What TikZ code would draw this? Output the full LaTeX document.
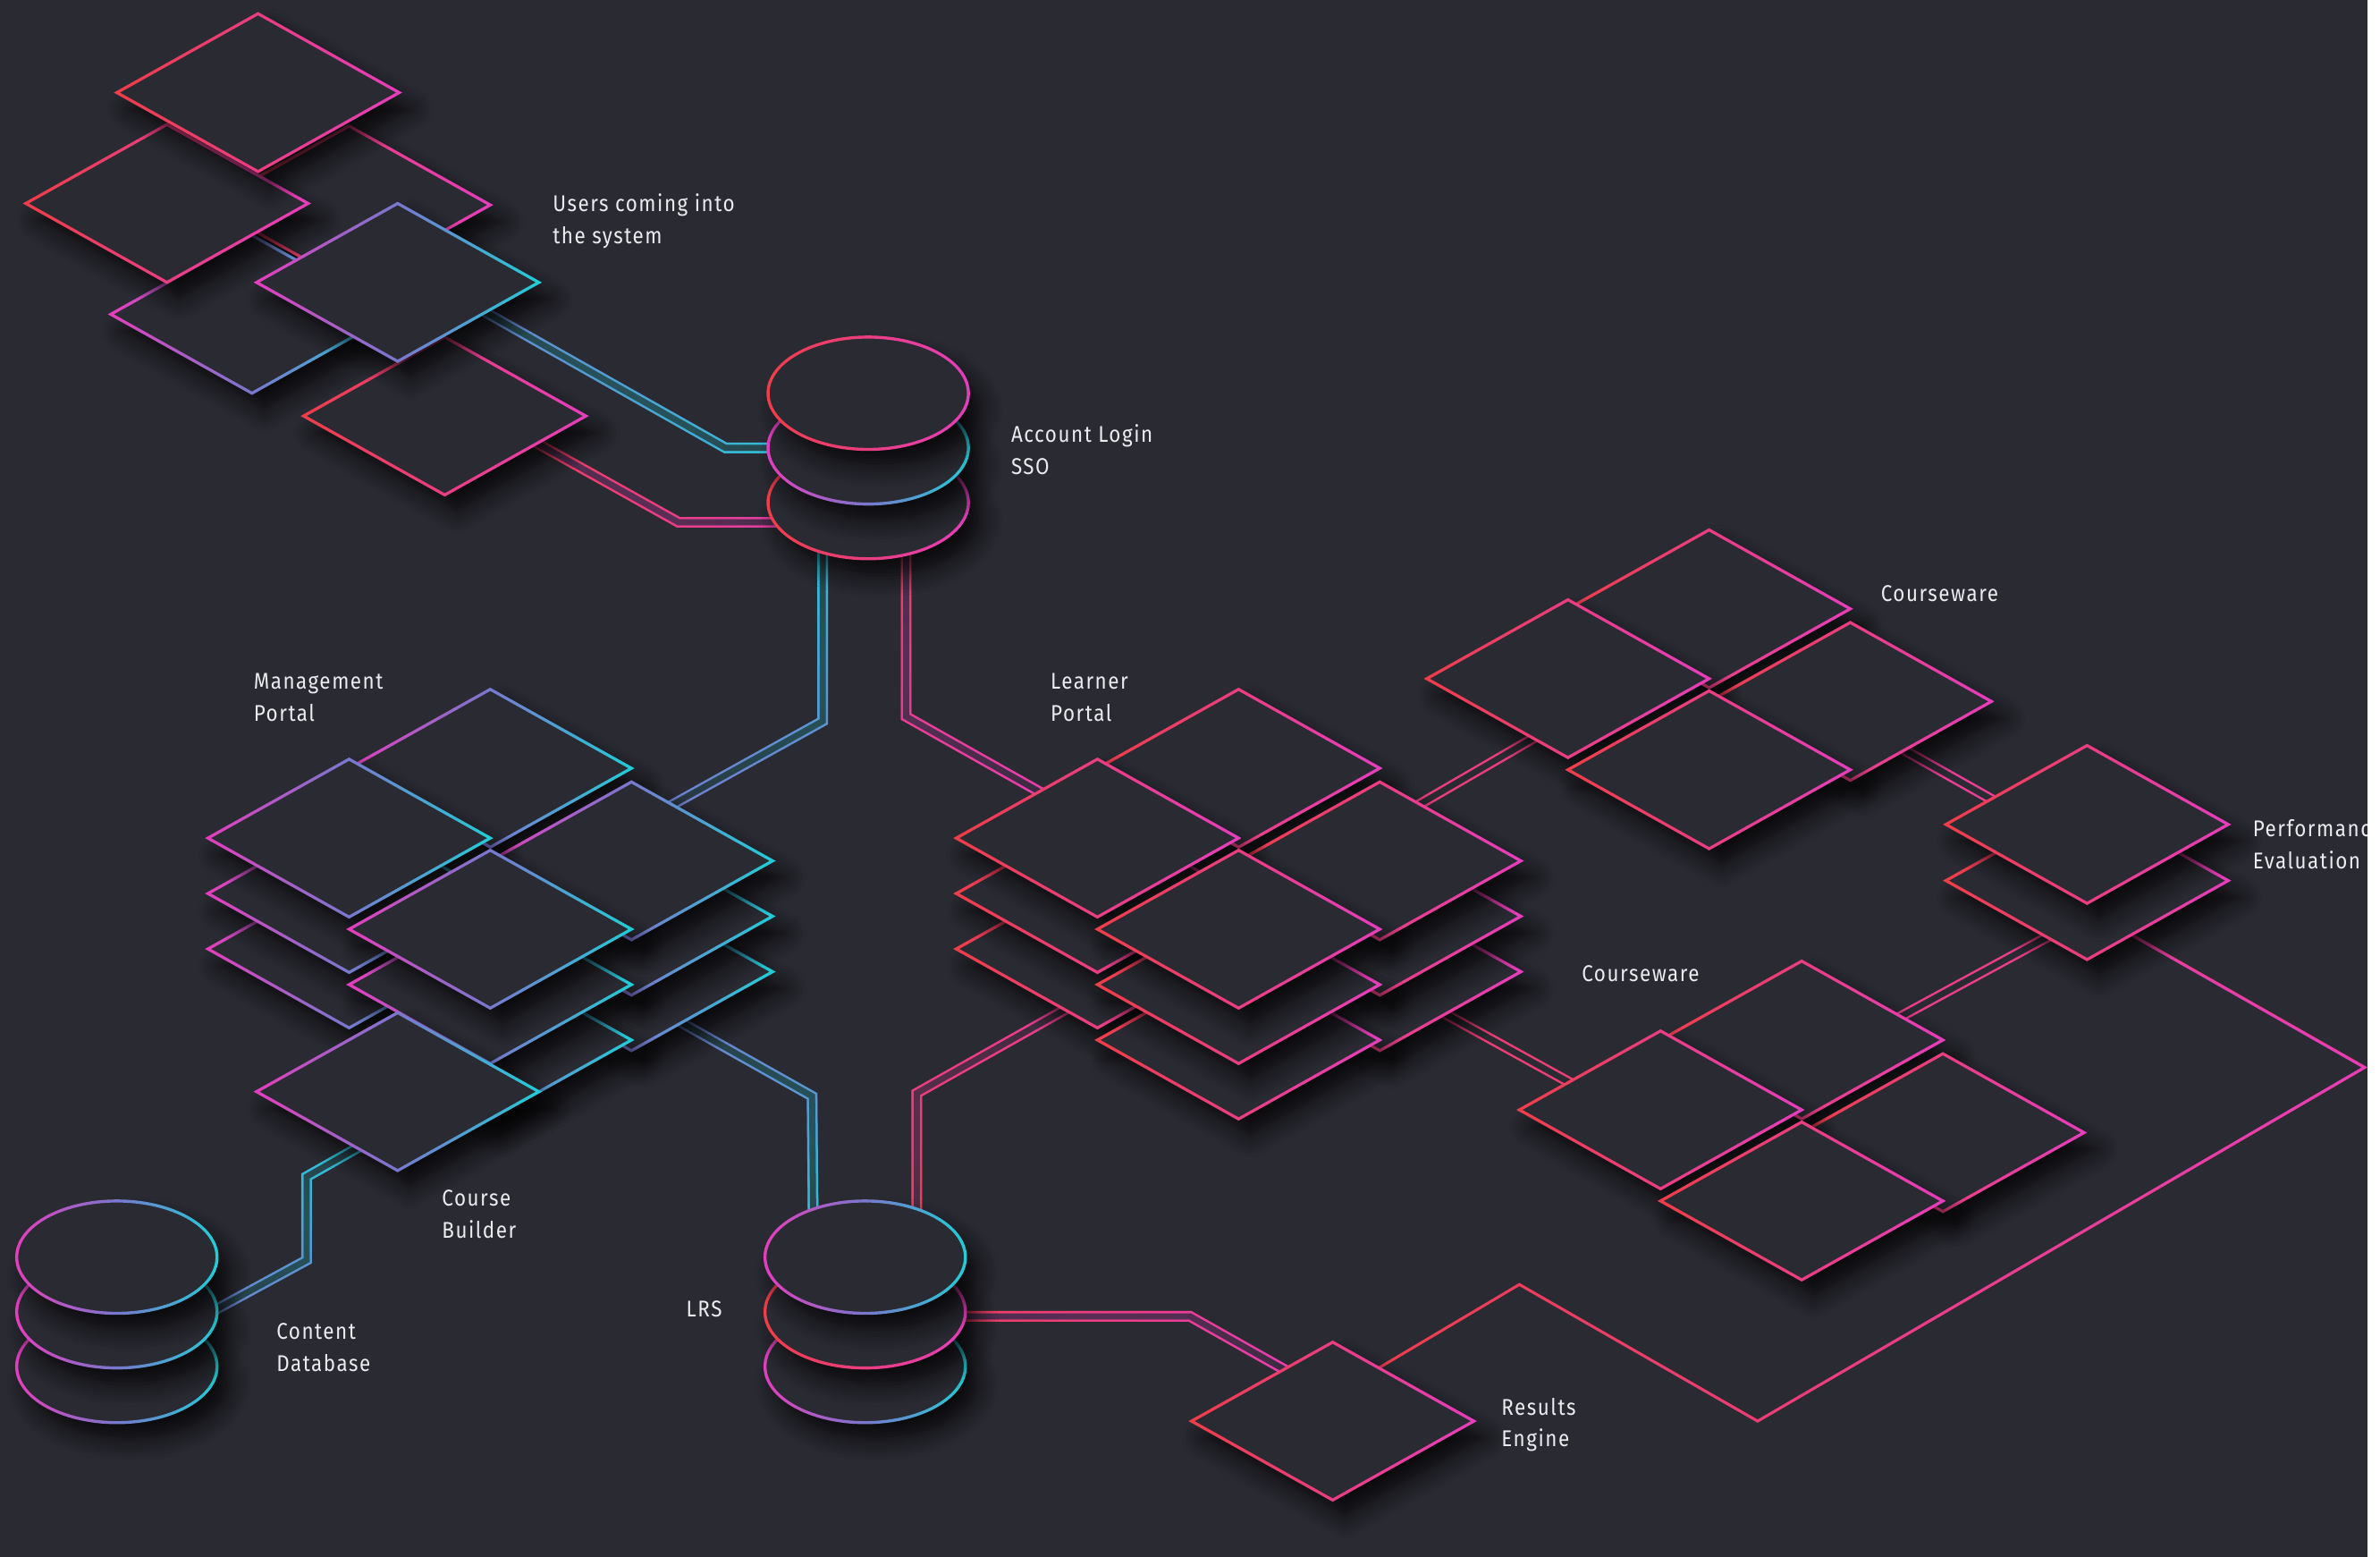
\documentclass[tikz,border=0pt]{standalone}
\usepackage{fontspec}
\setmainfont{Fira Sans}[FakeStretch=0.88,LetterSpace=6]
\usetikzlibrary{calc,fadings,shadows.blur}
\definecolor{bgc}{RGB}{42,42,51}
\definecolor{cR}{RGB}{238,62,72}
\definecolor{cM}{RGB}{228,62,188}
\definecolor{cC}{RGB}{32,206,214}
\definecolor{cP}{RGB}{120,120,205}
\definecolor{txtc}{RGB}{235,235,240}
\tikzfading[name=fr, left color=transparent!100, right color=transparent!0]
\tikzfading[name=fu, top color=transparent!0, bottom color=transparent!100]
\tikzfading[name=fd, top color=transparent!100, bottom color=transparent!0]
\tikzset{
  rsh/.style={left color=cR, right color=cM},
  csh/.style={left color=cM, right color=cC, middle color=cP},
  shd/.style={blur shadow={shadow xshift=8pt, shadow yshift=-11pt, shadow blur radius=14pt, shadow opacity=80, shadow blur steps=8}},
  dbl/.style={double=bgc, double distance=4pt, line width=1.5pt},
  sgl/.style={line width=1.8pt},
  lbl/.style={text=txtc, font=\fontsize{15}{21}\selectfont, align=left, anchor=north west, inner sep=0pt},
}
\newcommand\dmd[2]{%
  \begin{scope}[shift={(#1)}]
    \fill[bgc, shd] (-93,0) -- (0,-52) -- (93,0) -- (0,52) -- cycle;
    \shade[#2, even odd rule] (-95,0) -- (0,-53.1) -- (95,0) -- (0,53.1) -- cycle
      (-91,0) -- (0,-50.9) -- (91,0) -- (0,50.9) -- cycle;
  \end{scope}}
\newcommand\stk[2]{\dmd{$(#1)+(0,73)$}{#2}\dmd{$(#1)+(0,36.5)$}{#2}\dmd{#1}{#2}}
\newcommand\dsk[2]{%
  \begin{scope}[shift={(#1)}]
    \fill[bgc, shd] (0,0) ellipse [x radius=66pt, y radius=37pt];
    \shade[#2, even odd rule] (0,0) ellipse [x radius=67pt, y radius=38pt]
      (0,0) ellipse [x radius=65pt, y radius=36pt];
  \end{scope}}
\begin{document}
\begin{tikzpicture}[x=1pt,y=-1pt]
\useasboundingbox (0,0) rectangle (1568,1025);
\fill[bgc] (-5,-5) rectangle (1559.7,1032);
% ---------- coordinates
\coordinate (u1) at (170,61);
\coordinate (u2) at (230,135);
\coordinate (u3) at (110,134);
\coordinate (u4) at (262,186);
\coordinate (u5) at (166,207);
\coordinate (u6) at (293,274);
\coordinate (acc) at (572,295);
\coordinate (m1) at (323,506);
\coordinate (m2) at (230,552);
\coordinate (m3) at (416,567);
\coordinate (m4) at (323,612);
\coordinate (cb) at (262,719);
\coordinate (l1) at (816,506);
\coordinate (l2) at (723,552);
\coordinate (l3) at (909,567);
\coordinate (l4) at (816,612);
\coordinate (cwt) at (1126,401);
\coordinate (cwtl) at (1033,447);
\coordinate (cwtr) at (1219,462);
\coordinate (cwtf) at (1126,507);
\coordinate (cwbb) at (1187,685);
\coordinate (cwbl) at (1094,731);
\coordinate (cwbr) at (1280,746);
\coordinate (cwbf) at (1187,791);
\coordinate (pe) at (1375,543);
\coordinate (lrs) at (570,864);
\coordinate (cdb) at (77,864);
\coordinate (res) at (878,936);
% ---------- connectors
\draw[dbl, cP] ($(u4)+(0,-13)$) -- ++(216,122) -- (acc);
\draw[dbl, cC, path fading=fr] ($(u4)+(0,-13)$) -- ++(216,122) -- (acc);
\draw[dbl, cR] ($(u6)+(0,-16)$) -- ++(154,86) -- ($(acc)+(0,49)$);
\draw[dbl, cM, path fading=fr] ($(u6)+(0,-16)$) -- ++(154,86) -- ($(acc)+(0,49)$);
\draw[dbl, cP] ($(acc)+(-30,40)$) -- ++(0,140) -- ($(m3)+(0,-22)$);
\draw[dbl, cC, path fading=fu] ($(acc)+(-30,40)$) -- ++(0,140) -- ($(m3)+(0,-22)$);
\draw[dbl, cR] ($(acc)+(25,40)$) -- ++(0,137) -- ($(l2)+(0,-9)$);
\draw[dbl, cM, path fading=fd] ($(acc)+(25,40)$) -- ++(0,137) -- ($(l2)+(0,-9)$);
\draw[dbl, cR] ($(l2)+(0,101)$) -- ++(-119,67) -- ($(lrs)+(34,-30)$);
\draw[dbl, cM!70!cR, path fading=fu] ($(l2)+(0,101)$) -- ++(-119,67) -- ($(lrs)+(34,-30)$);
\draw[dbl, cP] ($(m3)+(0,88)$) -- ++(119,67) -- ($(lrs)+(-34,-30)$);
\draw[dbl, cC, path fading=fd] ($(m3)+(0,88)$) -- ++(119,67) -- ($(lrs)+(-34,-30)$);
\draw[dbl, cP] ($(cb)+(0,22)$) -- ++(-60,34) -- ++(0,55) -- ($(cdb)+(33,16)$);
\draw[dbl, cC, path fading=fu] ($(cb)+(0,22)$) -- ++(-60,34) -- ++(0,55) -- ($(cdb)+(33,16)$);
\draw[dbl, cR] ($(lrs)+(0,3)$) -- ++(214,0) -- ($(res)+(0,-16)$);
\draw[dbl, cM, path fading=fr] ($(lrs)+(0,3)$) -- ++(214,0) -- ($(res)+(0,-16)$);
\draw[dbl, cR!60!cM] ($(l3)+(0,77)$) -- ($(cwbl)+(0,15)$);
\draw[dbl, cR!55!cM] ($(l3)+(0,-22)$) -- ($(cwtl)+(0,26)$);
\draw[dbl, cM!65!cR] ($(cwtr)+(0,12)$) -- ($(pe)+(0,19)$);
\draw[dbl, cM!55!cR] ($(cwbb)+(33,2)$) -- ($(pe)+(0,60)$);
\draw[sgl, cR] ($(res)+(0,-17)$) -- ++(123,-73) -- ++(157,90) -- ++(400,-233) -- ($(pe)+(0,56)$);
\draw[sgl, cM, path fading=fr] ($(res)+(0,-17)$) -- ++(123,-73) -- ++(157,90) -- ++(400,-233) -- ($(pe)+(0,56)$);
% ---------- users group
\dmd{u2}{rsh}
\dmd{u5}{csh}
\dmd{u3}{rsh}
\dmd{u1}{rsh}
\dmd{u6}{rsh}
\dmd{u4}{csh}
% ---------- account login
\dsk{$(acc)+(0,36)$}{rsh}
\dsk{acc}{csh}
\dsk{$(acc)+(0,-36)$}{rsh}
% ---------- management portal
\dmd{m1}{csh}
\stk{m3}{csh}
\stk{m2}{csh}
\stk{m4}{csh}
\dmd{cb}{csh}
% ---------- learner portal
\dmd{l1}{rsh}
\stk{l3}{rsh}
\stk{l2}{rsh}
\stk{l4}{rsh}
% ---------- courseware top
\dmd{cwt}{rsh}
\dmd{cwtr}{rsh}
\dmd{cwtl}{rsh}
\dmd{cwtf}{rsh}
% ---------- courseware bottom
\dmd{cwbb}{rsh}
\dmd{cwbr}{rsh}
\dmd{cwbl}{rsh}
\dmd{cwbf}{rsh}
% ---------- performance evaluation
\dmd{$(pe)+(0,37)$}{rsh}
\dmd{pe}{rsh}
% ---------- LRS
\dsk{$(lrs)+(0,36)$}{csh}
\dsk{lrs}{rsh}
\dsk{$(lrs)+(0,-36)$}{csh}
% ---------- content database
\dsk{$(cdb)+(0,36)$}{csh}
\dsk{cdb}{csh}
\dsk{$(cdb)+(0,-36)$}{csh}
% ---------- results engine
\dmd{res}{rsh}
% ---------- labels
\node[lbl] (tusers) at (364,127.5) {Users coming into\\the system};
\node[lbl] (tacc) at (666,279.5) {Account Login\\SSO};
\node[lbl] (tmgmt) at (167,443.5) {Management\\Portal};
\node[lbl] (tlearn) at (692,443.5) {Learner\\Portal};
\node[lbl] (tcwt) at (1239,385.5) {Courseware};
\node[lbl] (tperf) at (1484,539.5) {Performance\\Evaluation};
\node[lbl] (tcwb) at (1042,635.5) {Courseware};
\node[lbl] (tcb) at (291,783.5) {Course\\Builder};
\node[lbl] (tlrs) at (452,856.5) {LRS};
\node[lbl] (tcdb) at (182,871.5) {Content\\Database};
\node[lbl] (tres) at (989,920.5) {Results\\Engine};
% ---------- white margin strip on the right edge
\fill[white] (1559.7,-5) rectangle (1575,1032);
\end{tikzpicture}
\end{document}
